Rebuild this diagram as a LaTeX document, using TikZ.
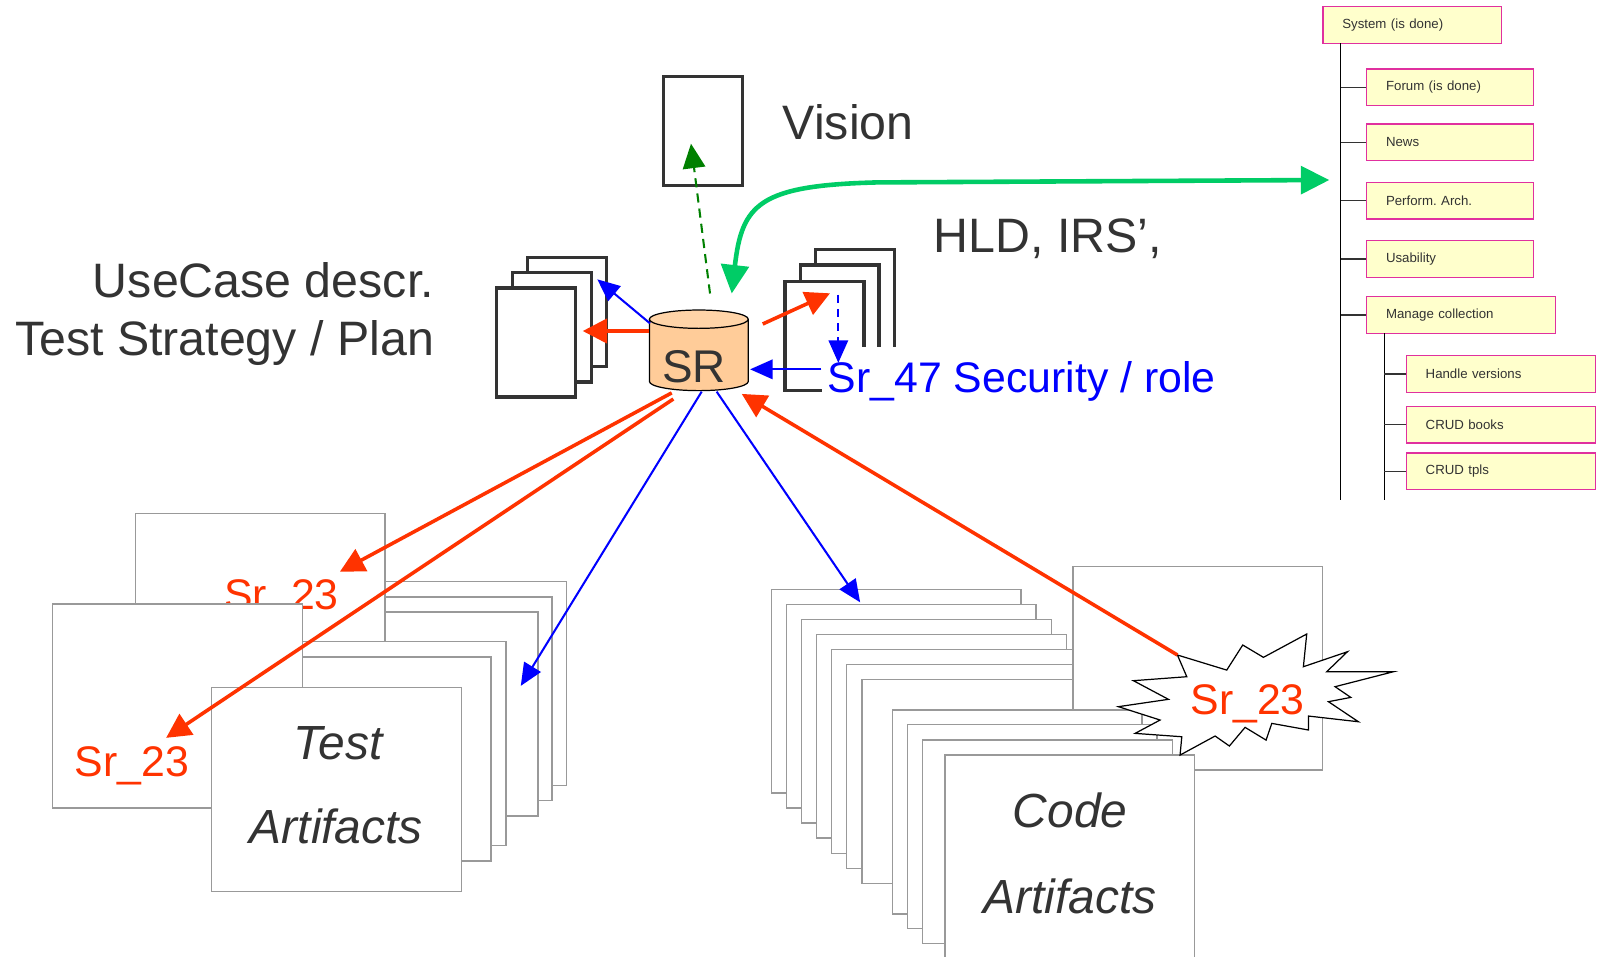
\documentclass[tikz,border=0pt]{standalone}
\usepackage{fontspec}
\setmainfont{Liberation Sans}
\usetikzlibrary{arrows.meta}

\definecolor{ink}{HTML}{333333}
\definecolor{pagegray}{HTML}{999999}
\definecolor{hot}{HTML}{FF3300}
\definecolor{linkblue}{HTML}{0000FF}
\definecolor{mint}{HTML}{00CC66}
\definecolor{darkgreen}{HTML}{008000}
\definecolor{peach}{HTML}{FFCC99}
\definecolor{peachtop}{HTML}{FFD4A8}
\definecolor{treeedge}{HTML}{E0309F}
\definecolor{treefill}{HTML}{FFFFCC}

\frenchspacing
\begin{document}
\begin{tikzpicture}[x=1pt, y=-1pt,
  every node/.style={inner sep=0pt},
  bigtext/.style={font=\fontsize{47.4}{52}\selectfont, text=ink},
  srlabel/.style={font=\fontsize{42}{46}\selectfont},
  arttext/.style={font=\itshape\fontsize{47}{52}\selectfont, text=ink, anchor=base},
  docpage/.style={draw=ink, line width=3.3pt, fill=white, anchor=north west,
    minimum width=77.5pt, minimum height=107pt},
  artpage/.style={draw=pagegray, line width=1.4pt, fill=white, anchor=north west,
    minimum width=245pt, minimum height=200pt},
  treebox/.style={draw=treeedge, fill=treefill, line width=1.2pt, anchor=north west,
    minimum height=36pt, inner xsep=19pt, inner ysep=0pt, align=left,
    font=\fontsize{13}{15}\selectfont, text=ink},
  trunk/.style={draw=black, line width=1.3pt},
  twig/.style={draw=ink, line width=1.2pt},
  redarrow/.style={draw=hot, line width=3.5pt, -{Triangle[length=24pt,width=24pt]}},
  bluearrow/.style={draw=linkblue, line width=2pt, -{Triangle[length=22pt,width=19pt]}},
]
\useasboundingbox (0,0) rectangle (1568,939);
\fill[white] (0,0) rectangle (1568,939);

% ---------------- requirement tree ----------------
\node[treebox, text width=137pt] (sys) at (1297.5,6) {System (is done)};
\node[treebox, text width=126pt] (forum) at (1340.4,67) {Forum (is done)};
\node[treebox, text width=126pt] (news) at (1340.4,121) {News};
\node[treebox, text width=126pt] (perf) at (1340.4,178.3) {Perform. Arch.};
\node[treebox, text width=126pt] (usab) at (1340.4,235.5) {Usability};
\node[treebox, text width=147.5pt] (manage) at (1340.4,290.5) {Manage collection};
\node[treebox, text width=147.8pt] (handle) at (1379.3,348.3) {Handle versions};
\node[treebox, text width=147.8pt] (books) at (1379.3,398.1) {CRUD books};
\node[treebox, text width=147.8pt] (tpls) at (1379.3,443.9) {CRUD tpls};

\coordinate (trunkA) at (1315.6,42.5);
\coordinate (trunkAend) at (1315.6,490.6);
\coordinate (trunkB) at (1358.4,326.9);
\coordinate (trunkBend) at (1358.4,490.6);
\draw[trunk] (trunkA) -- (trunkAend);
\draw[trunk] (trunkB) -- (trunkBend);
\foreach \leaf in {forum,news,perf,usab,manage}
  \draw[twig] (trunkA |- \leaf.west) -- (\leaf.west);
\foreach \leaf in {handle,books,tpls}
  \draw[twig] (trunkB |- \leaf.west) -- (\leaf.west);

% ---------------- vision and document stacks ----------------
\node[docpage, minimum width=77pt] (vision) at (649.6,73.6) {};
\node[bigtext, anchor=base west] (visionlbl) at (768,137) {Vision};
\node[bigtext, anchor=base west] (hldlbl) at (916,248) {HLD, IRS’,};
\node[bigtext, anchor=base east] (uclbl) at (426,292) {UseCase descr.};
\node[bigtext, anchor=base east] (tslbl) at (426,349) {Test Strategy / Plan};

\node[docpage] (ucback) at (516.2,250.9) {};
\node[docpage] (ucmid) at (501.5,266) {};
\node[docpage] (ucfront) at (485.8,281) {};

\node[docpage] (hldback) at (798.5,243) {};
\node[docpage] (hldmid) at (783.5,258.5) {};
\node[docpage] (hldfront) at (768.5,274.5) {};
\node[srlabel, text=linkblue, anchor=base west, fill=white, inner xsep=6pt,
  text height=45pt, text depth=10pt] (sr47) at (806,385) {Sr\_47 Security / role};

% ---------------- SR repository ----------------
\fill[peach] (637.2,313.2) rectangle (734.2,374.3);
\fill[peach] (685.7,374.3) ellipse [x radius=48.5pt, y radius=9pt];
\draw[line width=1.2pt] (637.2,313.2) -- (637.2,374.3)
  arc [start angle=180, end angle=360, x radius=48.5pt, y radius=9pt] -- (734.2,313.2);
\filldraw[fill=peachtop, line width=1.2pt] (685.7,313.2) ellipse [x radius=48.5pt, y radius=9pt];
\node[minimum width=97pt, minimum height=79pt] (srbody) at (685.7,343.7) {};
\node[font=\fontsize{45}{50}\selectfont, text=ink, anchor=base] (sr) at (681,375) {SR};

% ---------------- test artifacts ----------------
\node[artpage] (tp1) at (310,570) {};
\node[artpage] (tp2) at (296,585) {};
\node[artpage] (tp3) at (282,600) {};
\node[artpage] (testA) at (132,503) {};
\node[srlabel, text=hot, anchor=base west] (srA) at (220,598) {Sr\_23};
\node[artpage] (tp4) at (251,629) {};
\node[artpage] (tp5) at (236,644) {};
\node[artpage] (testB) at (51,592) {};
\node[srlabel, text=hot, anchor=base west] (srB) at (73,762) {Sr\_23};
\node[artpage] (testC) at (207,674) {};
\node[arttext] (testw1) at (332,745) {Test};
\node[arttext] (testw2) at (330,828) {Artifacts};

% ---------------- code artifacts ----------------
\node[artpage] (cp1) at (756.2,577.5) {};
\node[artpage] (cp2) at (771,592.3) {};
\node[artpage] (cp3) at (785.8,607) {};
\node[artpage] (cp4) at (800.6,621.7) {};
\node[artpage] (cp5) at (815.3,636.7) {};
\node[artpage] (cp6) at (830,651.4) {};
\node[artpage] (cp7) at (845,666) {};
\node[artpage] (codeD) at (1052,555) {};
\node[artpage] (cp8) at (875,696) {};
\node[artpage] (cp9) at (889.7,710.3) {};
\node[artpage] (cp10) at (904.5,725.3) {};
\node[artpage, minimum height=210pt] (codeE) at (926.5,740.3) {};
\node[arttext] (codew1) at (1050,812) {Code};
\node[arttext] (codew2) at (1050,896) {Artifacts};

% burst marking the changed requirement
\filldraw[fill=white, draw=black, line width=1.2pt]
  (1155.3,642.7) -- (1203.7,657.5) -- (1219.4,632.9) -- (1239.7,645.0) --
  (1282.2,622.1) -- (1278.9,654.2) -- (1322.1,639.5) -- (1301.8,659.1) --
  (1367.3,659.1) -- (1310.0,673.8) -- (1325.4,684.3) -- (1303.5,688.5) --
  (1332.9,708.2) -- (1283.9,702.6) -- (1283.9,716.3) -- (1247.9,709.8) --
  (1242.3,726.2) -- (1221.7,713.7) -- (1206.3,732.0) -- (1192.3,722.2) --
  (1157.9,740.9) -- (1159.6,722.9) -- (1113.8,719.6) -- (1138.3,706.5) --
  (1097.4,693.4) -- (1146.5,686.2) -- (1112.1,667.9) -- (1164.5,664.0) -- cycle;
\coordinate (burst) at (1155.3,642.7);
\node[srlabel, text=hot, anchor=base west] (srC) at (1168,701) {Sr\_23};

% ---------------- connectors ----------------
\coordinate (ucTipRed) at (571.8,324.8);
\coordinate (ucTipBlue) at (586.1,274.1);
\coordinate (srUL) at (637.8,317.3);
\coordinate (srUR) at (748.4,317.9);
\coordinate (hldTip) at (814.4,287.8);
\coordinate (dashTop) at (822.6,289);
\coordinate (dashTip) at (822.6,356);
\coordinate (srRight) at (736,362.4);
\coordinate (srOut1) at (659.1,385.5);
\coordinate (srOut2) at (660.7,391.5);
\coordinate (srOut3) at (688.5,384.3);
\coordinate (srOut4) at (703.2,384.3);
\coordinate (srIn) at (727.8,386.5);
\coordinate (tipA) at (333.5,561);
\coordinate (tipB) at (163,724);
\coordinate (tipTests) at (511,673);
\coordinate (tipCode) at (844,591);
\coordinate (visionFoot) at (696.7,288);
\coordinate (visionTip) at (678,141);
\coordinate (srTop) at (718,288);
\coordinate (treeTip) at (1304.4,176.6);

\draw[redarrow] (srbody.west |- ucTipRed) -- (ucTipRed);
\draw[bluearrow] (srUL) -- (ucTipBlue);
\draw[redarrow] (srUR) -- (hldTip);
\draw[bluearrow, dash pattern=on 8pt off 6pt] (dashTop) -- (dashTip);
\draw[bluearrow] (sr47.west |- srRight) -- (srRight);

\draw[redarrow] (srOut1) -- (tipA);
\draw[redarrow] (srOut2) -- (tipB);
\draw[bluearrow] (srOut3) -- (tipTests);
\draw[bluearrow] (srOut4) -- (tipCode);
\draw[redarrow] (burst) -- (srIn);

\draw[darkgreen, line width=2pt, dash pattern=on 9pt off 6pt,
  -{Triangle[length=24pt,width=22pt]}] (visionFoot) -- (visionTip);
\draw[mint, line width=4.5pt,
  {Triangle[length=28pt,width=27pt]}-{Triangle[length=28pt,width=27pt]}]
  (srTop) .. controls (728,200) and (745,182) .. (860,179) -- (treeTip);
\end{tikzpicture}
\end{document}
